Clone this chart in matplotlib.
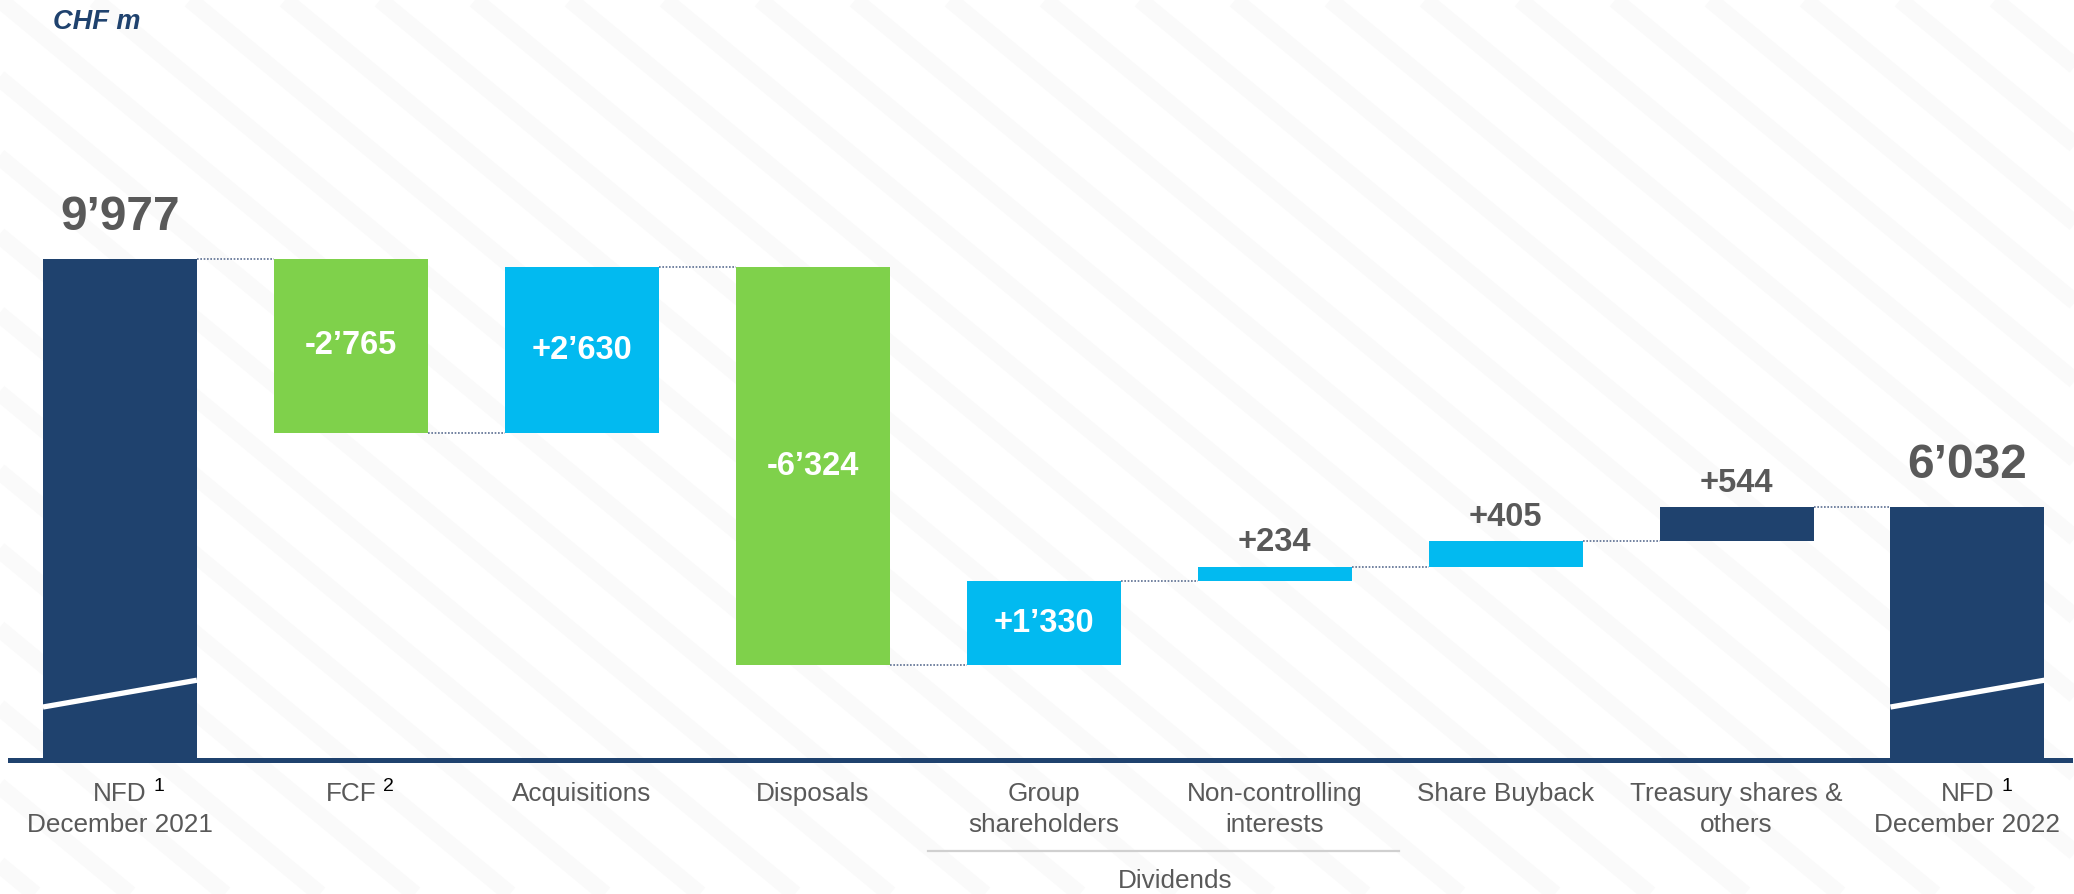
import matplotlib
matplotlib.use('Agg')
import matplotlib.pyplot as plt
import matplotlib.transforms as mtransforms
from matplotlib.lines import Line2D
from typing import List

# chart data
categories: List[str] = ['NFD\nDecember 2021', 'FCF', 'Acquisitions', 'Disposals', 'Group\nshareholders',
                         'Non-controlling\ninterests', 'Share Buyback', 'Treasury shares &\nothers',
                         'NFD\nDecember 2022']
footnotes: List[str] = ['1', '2', '', '', '', '', '', '', '1']
start_value = 9977
changes: List[int] = [-2765, 2630, -6324, 1330, 234, 405, 544]
end_value = 6032
dividend_group: List[int] = [4, 5]
unit_label = 'CHF m'
group_label = 'Dividends'

NAVY = '#1F426E'
GREEN = '#7FD14B'
CYAN = '#02BAF0'
TEXT_GRAY = '#595959'
CONNECTOR = '#5B6E91'
BAR_COLORS = [NAVY, GREEN, CYAN, GREEN, CYAN, CYAN, CYAN, NAVY, NAVY]
BAR_WIDTH = 0.667
FONT = 'Liberation Sans'
LABEL_SIZE = 18.8

plt.rcParams['font.family'] = [FONT, 'DejaVu Sans']


def fmt(value: int, signed: bool) -> str:
    text = f'{abs(value):,}'.replace(',', '\u2019')
    if not signed:
        return text
    return ('+' if value > 0 else '-') + text


def build_bars():
    bottoms, heights, levels = [0], [start_value], [start_value]
    running = start_value
    for c in changes:
        bottoms.append(min(running, running + c))
        heights.append(abs(c))
        running += c
        levels.append(running)
    bottoms.append(0)
    heights.append(end_value)
    levels.append(end_value)
    return bottoms, heights, levels


def draw_background(fig):
    # very faint diagonal stripes like the slide background
    w = 2074.0
    for k in range(-14, 24):
        x0 = k * 95
        fig.add_artist(Line2D([x0 / w, (x0 + 1080) / w], [1.0, 0.0], transform=fig.transFigure,
                              color='#fafafa', linewidth=12, zorder=-1, solid_capstyle='butt'))


def main():
    fig = plt.figure(figsize=(20.74, 8.94), dpi=100)
    draw_background(fig)
    ax = fig.add_axes([10 / 2074, 134 / 894, 2060 / 2074, 760 / 894])
    ax.patch.set_visible(False)
    n = len(categories)
    xs = list(range(n))
    bottoms, heights, levels = build_bars()

    ax.bar(xs, heights, bottom=bottoms, width=BAR_WIDTH, color=BAR_COLORS, zorder=2)
    ax.set_xlim(-0.476, 8.444)
    ax.set_ylim(2008, 14097)

    # connectors
    for i in range(n - 1):
        ax.plot([i + BAR_WIDTH / 2, i + 1 - BAR_WIDTH / 2], [levels[i], levels[i]], linestyle=(0, (1, 1)),
                color=CONNECTOR, linewidth=1.2, zorder=1)

    # axis break marks on the totals
    trans = mtransforms.blended_transform_factory(ax.transData, ax.transAxes)
    for i in [0, n - 1]:
        ax.plot([i - BAR_WIDTH / 2, i + BAR_WIDTH / 2], [0.0697, 0.105], color='white', linewidth=3.8,
                transform=trans, zorder=3, solid_capstyle='butt')

    # value labels
    for i in xs:
        if i == 0 or i == n - 1:
            ax.annotate(fmt(heights[i], False), xy=(i, bottoms[i] + heights[i]), xytext=(0, 21),
                        textcoords='offset points', ha='center', va='baseline', fontsize=34.5,
                        fontweight='bold', color=TEXT_GRAY)
        elif heights[i] >= 1000:
            ax.text(i, bottoms[i] + heights[i] / 2, fmt(changes[i - 1], True), ha='center', va='center',
                    fontsize=23.5, fontweight='bold', color='white', zorder=4)
        else:
            ax.annotate(fmt(changes[i - 1], True), xy=(i, bottoms[i] + heights[i]), xytext=(0, 11),
                        textcoords='offset points', ha='center', va='baseline', fontsize=23.5,
                        fontweight='bold', color=TEXT_GRAY)

    # category labels
    for i, label in enumerate(categories):
        lines = label.split('\n')
        first = ax.annotate(lines[0], xy=(i, 0), xycoords=trans, xytext=(0, -29.5),
                            textcoords='offset points', ha='center', va='baseline', fontsize=LABEL_SIZE,
                            color=TEXT_GRAY, annotation_clip=False)
        if len(lines) > 1:
            ax.annotate(lines[1], xy=(i, 0), xycoords=trans, xytext=(0, -51.5), textcoords='offset points',
                        ha='center', va='baseline', fontsize=LABEL_SIZE, color=TEXT_GRAY,
                        annotation_clip=False)
        if footnotes[i]:
            ax.annotate(footnotes[i], xy=(1, 1), xycoords=first, xytext=(5, 3), textcoords='offset points',
                        ha='left', va='top', fontsize=14, color='black', annotation_clip=False)

    # dividends bracket
    x_left = dividend_group[0] - 0.5
    x_right = dividend_group[-1] + 0.54
    ax.plot([x_left, x_right], [-0.1197, -0.1197], color='#d0d0d0', linewidth=1.6, transform=trans,
            clip_on=False)
    ax.text((x_left + x_right) / 2 + 0.05, -0.168, group_label, transform=trans, ha='center', va='baseline',
            fontsize=LABEL_SIZE, color=TEXT_GRAY)

    for side in ['top', 'left', 'right']:
        ax.spines[side].set_visible(False)
    ax.spines['bottom'].set_color(NAVY)
    ax.spines['bottom'].set_linewidth(3.6)
    ax.set_xticks([])
    ax.set_yticks([])

    fig.text(53 / 2074, 1 - 29 / 894, unit_label, ha='left', va='baseline', fontsize=19.5, fontweight='bold',
             fontstyle='italic', color=NAVY)

    fig.savefig('out.png', dpi=100, facecolor='white')


main()
